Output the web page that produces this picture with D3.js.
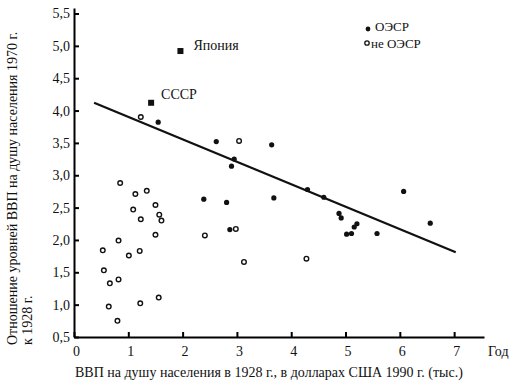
<!DOCTYPE html>
<html>
<head>
<meta charset="utf-8">
<script src="https://cdn.jsdelivr.net/npm/d3@7"></script>
<style>
  html, body { margin: 0; padding: 0; background: #fff; }
  svg text { font-family: "Liberation Serif", "Tinos", "Times New Roman", "DejaVu Serif", serif; }
</style>
</head>
<body>
<svg id="chart" width="509" height="381"></svg>
<script>
// ---- data ----
const oecdX = [1.55, 2.62, 3.64, 2.95, 2.90, 2.39, 2.81, 3.68, 2.87, 4.30, 4.60, 4.88, 4.92, 5.02, 5.11, 5.16, 5.21, 5.58, 6.07, 6.56];
const oecdY = [3.82, 3.52, 3.47, 3.25, 3.14, 2.63, 2.58, 2.65, 2.16, 2.78, 2.66, 2.41, 2.34, 2.09, 2.10, 2.20, 2.25, 2.10, 2.75, 2.26];

const nonOecdX = [1.23, 3.04, 2.98, 2.41, 3.13, 4.28, 0.85, 1.13, 1.34, 1.09, 1.50, 1.23, 1.57, 1.61, 1.50, 0.82, 0.53, 1.21, 1.01, 0.55, 0.82, 0.66, 1.56, 1.22, 0.64, 0.80];
const nonOecdY = [3.90, 3.53, 2.17, 2.07, 1.66, 1.71, 2.88, 2.71, 2.76, 2.47, 2.54, 2.32, 2.39, 2.30, 2.08, 1.99, 1.84, 1.83, 1.76, 1.53, 1.39, 1.33, 1.11, 1.02, 0.97, 0.75];

const namedNames = ["Япония", "СССР"];
const namedX = [1.96, 1.42];
const namedY = [4.92, 4.12];

const trendX = [0.37, 7.03];
const trendY = [4.12, 1.81];

const xTicks = [0, 1, 2, 3, 4, 5, 6, 7];
const yTicks = [0.5, 1.0, 1.5, 2.0, 2.5, 3.0, 3.5, 4.0, 4.5, 5.0, 5.5];
const yTickLabels = ["0,5", "1,0", "1,5", "2,0", "2,5", "3,0", "3,5", "4,0", "4,5", "5,0", "5,5"];

const legendLabels = ["ОЭСР", "не ОЭСР"];
const xTitle = "ВВП на душу населения в 1928 г., в долларах США 1990 г. (тыс.)";
const xUnit = "Год";
const yTitle1 = "Отношение уровней ВВП на душу населения 1970 г.";
const yTitle2 = "к 1928 г.";

// ---- drawing ----
const FONT = '"Liberation Serif", "Times New Roman", serif';
const svg = d3.select("#chart");
const x = d3.scaleLinear().domain([0, 7.55]).range([74, 484]);
const y = d3.scaleLinear().domain([0.5, 5.585]).range([337, 8]);

// x axis
const gx = svg.append("g").attr("transform", `translate(0,${y(0.5)})`)
  .call(d3.axisBottom(x).tickValues(xTicks).tickSize(-5).tickSizeOuter(0).tickFormat(d => String(d)));
gx.attr("font-family", FONT);
gx.select(".domain").attr("stroke-width", 2);
gx.selectAll(".tick line").attr("stroke-width", 2);
gx.selectAll(".tick text").attr("y", 19).attr("dy", 0).attr("dx", 2)
  .attr("font-size", 14).attr("fill", "#111");

// y axis
const gy = svg.append("g").attr("transform", `translate(${x(0)},0)`)
  .call(d3.axisLeft(y).tickValues(yTicks).tickSize(-5).tickSizeOuter(0).tickPadding(4)
    .tickFormat((d, i) => yTickLabels[i]));
gy.attr("font-family", FONT);
gy.select(".domain").attr("stroke-width", 2);
gy.selectAll(".tick line").attr("stroke-width", 2);
gy.selectAll(".tick text").attr("font-size", 14).attr("fill", "#111");

// trend line
svg.append("line")
  .attr("x1", x(trendX[0])).attr("y1", y(trendY[0]))
  .attr("x2", x(trendX[1])).attr("y2", y(trendY[1]))
  .attr("stroke", "#111").attr("stroke-width", 2.3);

// OECD points (filled)
svg.append("g").selectAll("circle").data(oecdX).join("circle")
  .attr("cx", d => x(d)).attr("cy", (d, i) => y(oecdY[i])).attr("r", 2.6).attr("fill", "#111");

// non-OECD points (open)
svg.append("g").selectAll("circle").data(nonOecdX).join("circle")
  .attr("cx", d => x(d)).attr("cy", (d, i) => y(nonOecdY[i])).attr("r", 2.3)
  .attr("fill", "#fff").attr("stroke", "#111").attr("stroke-width", 1.4);

// named points (squares) + labels
const named = svg.append("g");
named.selectAll("rect").data(namedX).join("rect")
  .attr("x", d => x(d) - 3).attr("y", (d, i) => y(namedY[i]) - 3)
  .attr("width", 6).attr("height", 6).attr("fill", "#111");
named.selectAll("text").data(namedNames).join("text")
  .attr("x", (d, i) => x(namedX[i]) + (i === 0 ? 13 : 10))
  .attr("y", (d, i) => y(namedY[i]) + (i === 0 ? -1 : -4))
  .attr("font-size", 14).attr("fill", "#111").text(d => d);

// legend
const lg = svg.append("g");
lg.append("circle").attr("cx", 368).attr("cy", 29).attr("r", 2.4).attr("fill", "#111");
lg.append("circle").attr("cx", 367).attr("cy", 43).attr("r", 2.2).attr("fill", "#fff").attr("stroke", "#111").attr("stroke-width", 1.3);
lg.selectAll("text").data(legendLabels).join("text")
  .attr("x", (d, i) => i === 0 ? 375 : 371)
  .attr("y", (d, i) => i === 0 ? 31 : 48)
  .attr("font-size", 13).attr("fill", "#111").text(d => d);

// axis titles
svg.append("text").attr("x", 75).attr("y", 377).attr("font-size", 14).attr("fill", "#111").text(xTitle);
svg.append("text").attr("x", 488).attr("y", 356).attr("font-size", 14).attr("fill", "#111").text(xUnit);
svg.append("text").attr("transform", "translate(17,345) rotate(-90)").attr("font-size", 14).attr("fill", "#111").text(yTitle1);
svg.append("text").attr("transform", "translate(32,345) rotate(-90)").attr("font-size", 14).attr("fill", "#111").text(yTitle2);
</script>
</body>
</html>
